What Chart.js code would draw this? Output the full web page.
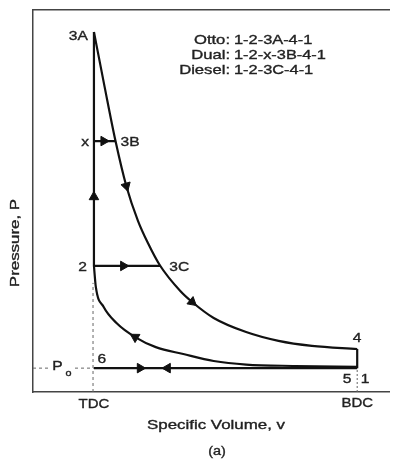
<!DOCTYPE html>
<html>
<head>
<meta charset="utf-8">
<script src="https://cdn.jsdelivr.net/npm/chart.js@4.4.0/dist/chart.umd.min.js"></script>
<style>
  html, body { margin: 0; padding: 0; background: #fff; }
  canvas { display: block; }
</style>
</head>
<body>
<canvas id="PvDiagram" width="396" height="459"></canvas>
<script>
// state points, v = specific volume (TDC = 1), P = pressure (P0 = 1)
var v_tdc = 1.0, v_bdc = 5.32;
var v_3b = 1.354, v_3c = 2.09;
var p_0 = 1.0, p_1 = 1.05, p_2 = 5.28, p_x = 10.51, p_3a = 15.08, p_4 = 1.80;

// expansion 3A -> 3B -> 3C -> 4
var expansion_v = [1.0, 1.176, 1.354, 1.531, 1.724, 1.886, 2.079, 2.417, 2.611, 2.965, 3.497, 4.029, 4.577, 5.32];
var expansion_p = [15.08, 12.77, 10.51, 8.63, 7.16, 6.24, 5.32, 4.23, 3.77, 3.10, 2.51, 2.14, 1.93, 1.80];

// compression 1 -> 2
var compression_v = [1.0, 1.031, 1.160, 1.370, 1.676, 2.015, 2.466, 2.965, 3.497, 4.303, 5.32];
var compression_p = [5.28, 4.40, 3.56, 2.89, 2.30, 1.88, 1.59, 1.30, 1.15, 1.09, 1.05];

// arrow heads
var arrow_v = [1.0, 1.16, 1.483, 1.531, 2.611, 1.676, 1.757, 2.208];
var arrow_p = [8.17, 10.51, 5.28, 8.63, 3.77, 2.30, 1.0, 1.0];
var arrow_rot = [0, 90, 90, 164, 130, 301, 90, 270];

var legend_names = ['Otto:', 'Dual:', 'Diesel:'];
var legend_paths = ['1-2-3A-4-1', '1-2-x-3B-4-1', '1-2-3C-4-1'];

var ink = '#111';

function pts(xs, ys) {
  var out = [];
  xs.forEach((x, i) => out.push({x: x, y: ys[i]}));
  return out;
}

function line(data, opts) {
  var d = {data: data, showLine: true, borderColor: ink, borderWidth: 2.2, pointRadius: 0, fill: false};
  return Object.assign(d, opts || {});
}

function put_text(ctx, txt, x, y, size, align, sx) {
  ctx.save();
  ctx.translate(x, y);
  ctx.scale(sx, 1);
  ctx.font = size + 'px "Liberation Sans", Arial, sans-serif';
  ctx.textAlign = align;
  ctx.textBaseline = 'middle';
  ctx.fillStyle = '#222';
  ctx.strokeStyle = '#222';
  ctx.lineWidth = 0.35;
  ctx.fillText(txt, 0, 0);
  ctx.strokeText(txt, 0, 0);
  ctx.restore();
}

var labels_plugin = {
  id: 'labels',
  afterDatasetsDraw(chart) {
    var ctx = chart.ctx, area = chart.chartArea;
    var X = v => chart.scales.x.getPixelForValue(v);
    var Y = p => chart.scales.y.getPixelForValue(p);
    var s = 1.2;

    put_text(ctx, '3A', X(v_tdc) - 6, Y(p_3a) + 4, 13, 'right', s);
    put_text(ctx, 'x', X(v_tdc) - 5, Y(p_x) + 1, 13, 'right', s);
    put_text(ctx, '3B', X(v_3b) + 5, Y(p_x) + 1, 13, 'left', s);
    put_text(ctx, '2', X(v_tdc) - 7, Y(p_2) + 1, 13, 'right', s);
    put_text(ctx, '3C', X(v_3c) + 9, Y(p_2) + 1, 13, 'left', s);
    put_text(ctx, '6', X(v_tdc) + 8, Y(p_0) - 9, 13, 'center', s);
    put_text(ctx, '4', X(v_bdc), Y(p_4) - 11, 13, 'center', s);
    put_text(ctx, '5', X(v_bdc) - 10, Y(p_0) + 11, 13, 'center', s);
    put_text(ctx, '1', X(v_bdc) + 8, Y(p_0) + 11, 13, 'center', s);

    // P0 label sits in a gap of the dashed line
    ctx.fillStyle = '#fff';
    ctx.fillRect(49, Y(p_0) - 9, 26, 18);
    put_text(ctx, 'P', 57.5, Y(p_0) - 2, 13, 'center', s);
    put_text(ctx, 'o', 68.5, Y(p_0) + 5, 9, 'center', s);

    put_text(ctx, 'TDC', X(v_tdc), area.bottom + 12, 13, 'center', 1.15);
    put_text(ctx, 'BDC', X(v_bdc), area.bottom + 11, 13, 'center', 1.15);
    put_text(ctx, 'Specific Volume, v', 216, 425, 13, 'center', 1.3);
    put_text(ctx, '(a)', 217, 452, 12, 'center', 1.2);

    ctx.save();
    ctx.translate(15, 243);
    ctx.rotate(-Math.PI / 2);
    put_text(ctx, 'Pressure, P', 0, 0, 13, 'center', 1.3);
    ctx.restore();

    legend_names.forEach((n, i) => {
      put_text(ctx, n, 230, 40 + i * 15, 13, 'right', 1.28);
      put_text(ctx, legend_paths[i], 234, 40 + i * 15, 13, 'left', 1.26);
    });
  }
};

var ctx = document.getElementById('PvDiagram');
var chart = new Chart(ctx, {
  type: 'scatter',
  data: {
    datasets: [
      // reference dashes
      line([{x: 0, y: p_0}, {x: v_tdc, y: p_0}], {borderColor: '#666', borderWidth: 1, borderDash: [3, 3]}),
      line([{x: v_tdc - 0.015, y: 0}, {x: v_tdc - 0.015, y: 4.57}], {borderColor: '#666', borderWidth: 1, borderDash: [3, 3]}),
      line([{x: v_bdc, y: 0}, {x: v_bdc, y: p_0}], {borderColor: '#666', borderWidth: 1, borderDash: [2, 2]}),
      // cycle
      line(pts(expansion_v, expansion_p), {cubicInterpolationMode: 'monotone'}),
      line(pts(compression_v, compression_p), {cubicInterpolationMode: 'monotone'}),
      line([{x: v_tdc, y: p_2}, {x: v_tdc, y: p_3a}]),
      line([{x: v_tdc, y: p_x}, {x: v_3b, y: p_x}]),
      line([{x: v_tdc, y: p_2}, {x: v_3c, y: p_2}]),
      line([{x: v_bdc, y: p_4}, {x: v_bdc, y: p_0}]),
      line([{x: v_tdc, y: p_0}, {x: v_bdc, y: p_0}]),
      // arrow heads
      {
        data: pts(arrow_v, arrow_p),
        showLine: false,
        pointStyle: 'triangle',
        pointRadius: 5.5,
        pointRotation: arrow_rot,
        pointBackgroundColor: ink,
        pointBorderColor: ink,
        pointBorderWidth: 1
      }
    ]
  },
  options: {
    responsive: false,
    animation: false,
    layout: {padding: {left: 33, top: 10, right: 0, bottom: 67}},
    plugins: {legend: {display: false}, tooltip: {enabled: false}},
    scales: {
      x: {type: 'linear', min: 0, max: 5.85, grid: {display: false, drawTicks: false}, ticks: {display: false}, border: {color: '#444', width: 1.5}},
      xTop: {type: 'linear', axis: 'x', position: 'top', min: 0, max: 5.85, grid: {display: false, drawTicks: false}, ticks: {display: false}, border: {color: '#444', width: 1.5}},
      y: {type: 'linear', min: 0, max: 16, grid: {display: false, drawTicks: false}, ticks: {display: false}, border: {color: '#444', width: 1.5}}
    }
  },
  plugins: [labels_plugin]
});
</script>
</body>
</html>
